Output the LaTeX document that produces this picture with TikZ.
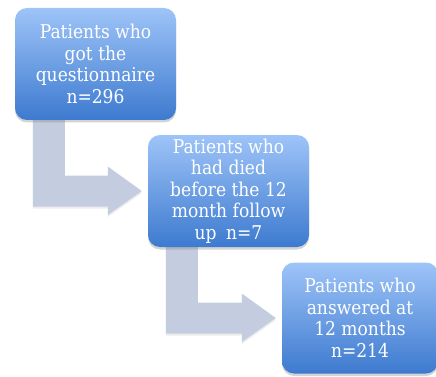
\documentclass[tikz,border=0pt]{standalone}
\usepackage{fontspec}
\setmainfont{DejaVu Serif Condensed}
\usetikzlibrary{calc,shadows,backgrounds}

\definecolor{kastenhell}{HTML}{9EC4F8}
\definecolor{kastendunkel}{HTML}{3D7ACF}
\definecolor{pfeilgrau}{HTML}{C4CDE0}

\tikzset{
  kasten/.style={rounded corners=12pt, minimum width=161pt, minimum height=112pt,
    top color=kastenhell, bottom color=kastendunkel, text=white, align=center,
    font=\fontsize{19}{21.5}\selectfont,
    drop shadow={opacity=0.35, shadow xshift=0pt, shadow yshift=-2.5pt}},
  pfeil/.style={fill=pfeilgrau, drop shadow={opacity=0.15, shadow xshift=0pt, shadow yshift=-2pt}}
}

% Knickpfeil von unter #1 nach links von #2
\newcommand\knickpfeil[2]{%
  \fill[pfeil]
    ($(#1.south west)+(18,0)$) --
    ($(#1.south west)+(50,0)$) |-
    ($(#2.west)+(-40,-15.5)$) --
    ++(0,-9) --
    ($(#2.west)+(-6,0)$) --
    ($(#2.west)+(-40,24)$) --
    ++(0,-8.5) -|
    ($(#1.south west)+(18,0)$) --
    cycle;}

\begin{document}
\begin{tikzpicture}[x=1pt,y=-1pt]

  \useasboundingbox (0,0) rectangle (436,377);

  % Kästen
  \node[kasten] (gefragt) at (95.5,64)
    {Patients who\\got the\\questionnaire\\n=296};
  \node[kasten] (gestorben) at (228.5,191)
    {Patients who\\had died\\before the 12\\month follow\\up\enspace n=7};
  \node[kasten, minimum width=156pt, minimum height=111pt] (geantwortet) at (360,318)
    {Patients who\\answered at\\12 months\\n=214};

  % Pfeile
  \begin{scope}[on background layer]
    \knickpfeil{gefragt}{gestorben}
    \knickpfeil{gestorben}{geantwortet}
  \end{scope}

\end{tikzpicture}
\end{document}
